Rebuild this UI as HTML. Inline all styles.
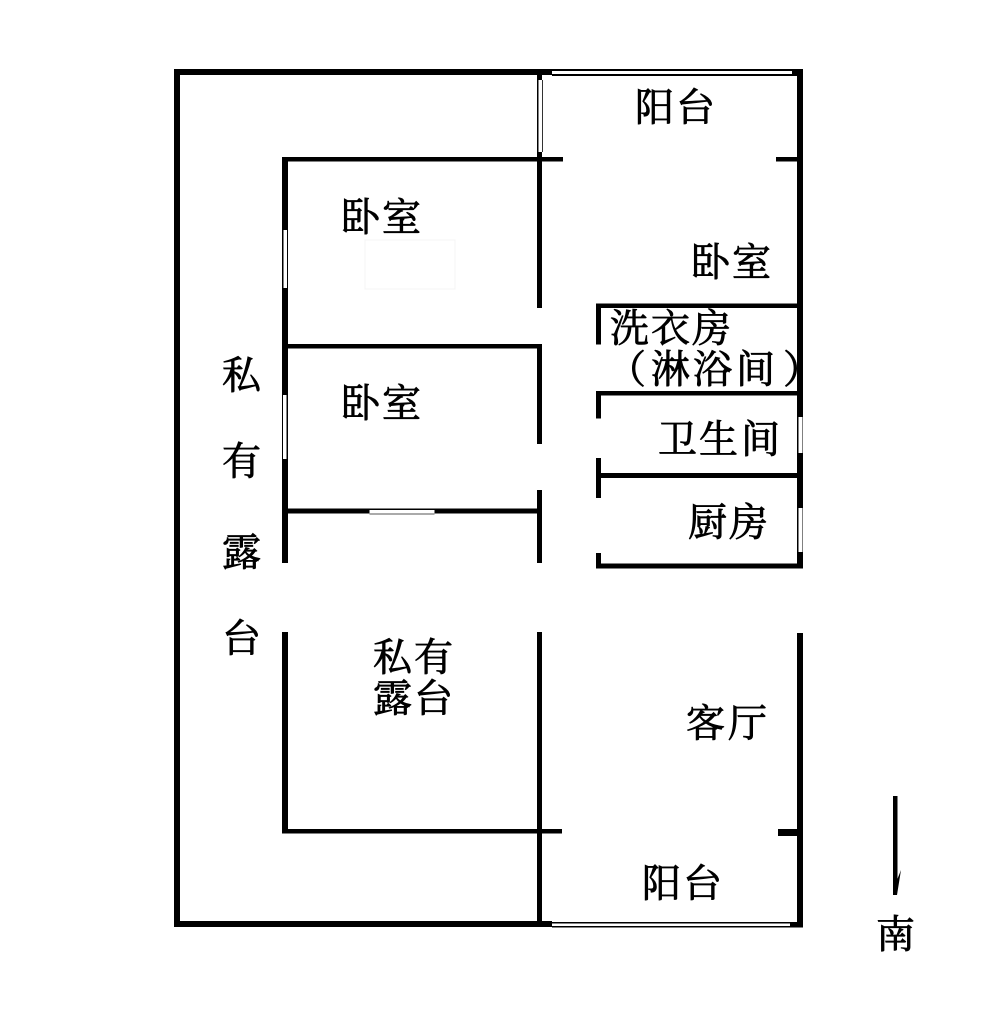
<!DOCTYPE html>
<html><head><meta charset="utf-8"><style>
html,body{margin:0;padding:0;background:#fff;width:1000px;height:1020px;overflow:hidden}
svg{display:block}
text{font-family:"Liberation Serif","Noto Serif CJK SC",serif;font-size:39px;fill:#000;stroke:#000;stroke-width:.8px}
</style></head><body>
<svg width="1000" height="1020" viewBox="0 0 1000 1020" xmlns="http://www.w3.org/2000/svg">
<rect width="1000" height="1020" fill="#fff"/>
<path d="M365 240H455V289H365Z" fill="none" stroke="#f4f4f4"/>
<g fill="#000">
<!-- outer -->
<rect x="174" y="69" width="378" height="6"/>
<rect x="174" y="69" width="6" height="858"/>
<rect x="174" y="921" width="378" height="6"/>
<rect x="552" y="69" width="251" height="2"/>
<rect x="552" y="74" width="251" height="2"/>
<rect x="552" y="922" width="251" height="1.5"/>
<rect x="552" y="926" width="251" height="1.5"/>
<rect x="792" y="69" width="11" height="7"/>
<rect x="790" y="922" width="13" height="5.5"/>
<rect x="797" y="69" width="6" height="499"/>
<rect x="797" y="633" width="6" height="294"/>
<!-- mid wall -->
<rect x="537" y="69" width="5" height="239"/>
<rect x="537" y="344" width="5" height="100"/>
<rect x="537" y="490" width="5" height="73"/>
<rect x="537" y="632" width="5" height="295"/>
<!-- horizontals -->
<rect x="282" y="157" width="281" height="4.5"/>
<rect x="776" y="157" width="21" height="4.5"/>
<rect x="282" y="344" width="260" height="4.5"/>
<rect x="282" y="508.500" width="255" height="5"/>
<rect x="282" y="829" width="280" height="4.500"/>
<rect x="778" y="829" width="19" height="7"/>
<!-- left inner -->
<rect x="282" y="157" width="6" height="406"/>
<rect x="282" y="632" width="6" height="201"/>
<!-- right rooms -->
<rect x="596" y="303.500" width="201" height="4.500"/>
<rect x="596" y="303.500" width="5" height="41"/>
<rect x="596" y="391" width="201" height="4.500"/>
<rect x="596" y="391" width="5" height="27.500"/>
<rect x="596" y="458" width="5" height="40"/>
<rect x="596" y="473" width="201" height="5"/>
<rect x="596" y="553" width="5" height="15"/>
<rect x="596" y="563.500" width="207" height="5"/>
<!-- arrow -->
<rect x="893" y="796" width="4.500" height="96"/>
<path d="M893 880L897 880L901 870L897 895H893Z"/>
</g>
<g fill="#fff">
<rect x="552" y="71" width="240" height="3"/>
<rect x="552" y="923.500" width="238" height="2.500"/>
<rect x="538.500" y="80" width="3.500" height="72"/>
<rect x="283.500" y="230" width="3.500" height="58"/>
<rect x="283" y="395" width="3.500" height="64"/>
<rect x="369.500" y="510" width="65" height="4"/>
<rect x="798.500" y="417" width="4" height="36"/>
<rect x="798.500" y="508" width="4" height="44"/>
</g>
<rect x="369.500" y="513.500" width="65" height="1" fill="#555"/>
<rect x="542" y="80" width="1" height="72" fill="#333"/>
<text x="635 676" y="121">阳台</text>
<text x="341 382" y="231">卧室</text>
<text x="691 732" y="276">卧室</text>
<text x="610 651 692" y="342">洗衣房</text>
<text x="607 651 693 736 783" y="383">（淋浴间）</text>
<text x="658 699 741" y="453">卫生间</text>
<text x="688 729" y="536">厨房</text>
<text x="341 382" y="417">卧室</text>
<text x="222" y="389">私</text>
<text x="222" y="475">有</text>
<text x="222" y="566">露</text>
<text x="222" y="652">台</text>
<text x="373 414" y="671">私有</text>
<text x="373 414" y="712">露台</text>
<text x="686 728" y="737">客厅</text>
<text x="642 683" y="897">阳台</text>
<text x="876" y="948">南</text>
</svg>
</body></html>
